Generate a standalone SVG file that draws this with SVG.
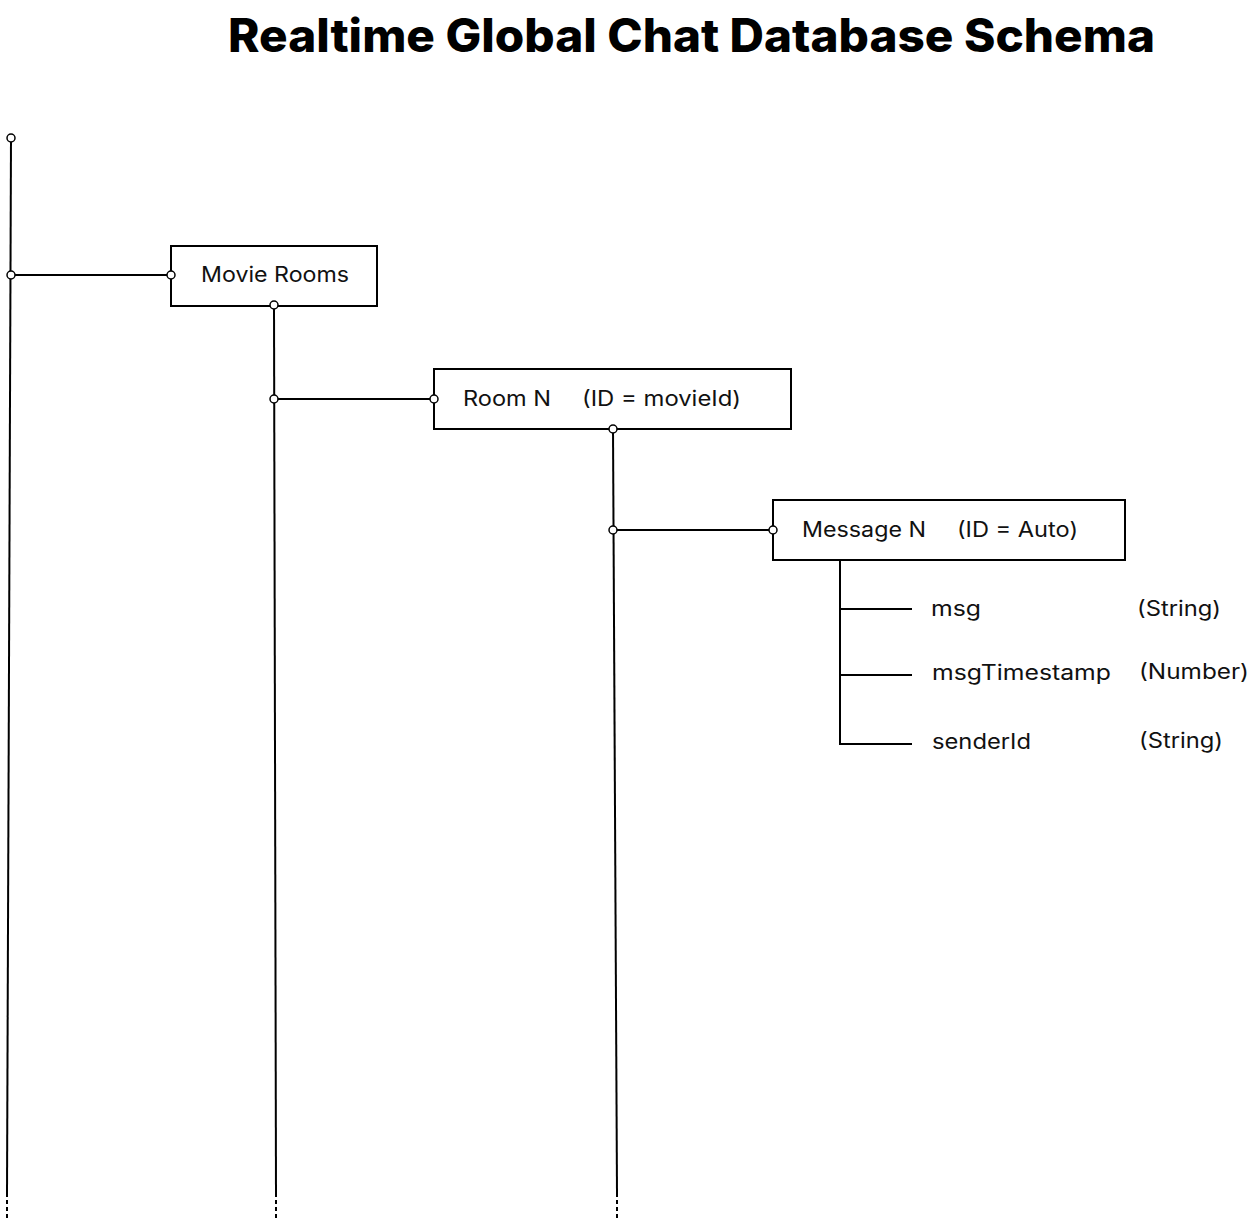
<svg xmlns="http://www.w3.org/2000/svg" width="1252" height="1219" viewBox="0 0 1252 1219">
<style>
.bg{fill:#fff}
.title{font-family:Inter,"Open Sans","Liberation Sans",sans-serif;font-weight:800;font-size:46px;fill:#000}
.lbl{font-family:Inter,"Open Sans","Liberation Sans",sans-serif;font-size:21px;fill:#111}
.box{fill:#fff;stroke:#000;stroke-width:2}
.ln{stroke:#000;stroke-width:2;fill:none}
.dash{stroke:#000;stroke-width:2;fill:none;stroke-dasharray:4 3}
.pt{fill:#fff;stroke:#000;stroke-width:1.5}
</style>
<rect class="bg" x="0" y="0" width="1252" height="1219"/>
<text class="title" x="228" y="52" textLength="927" lengthAdjust="spacingAndGlyphs">Realtime Global Chat Database Schema</text>
<g id="connectors">
<path class="ln" d="M11 138 L7 1193"/>
<path class="dash" d="M7 1193 L7 1219"/>
<path class="ln" d="M274 305 L276 1193"/>
<path class="dash" d="M276 1193 L276 1219"/>
<path class="ln" d="M613 429 L617 1193"/>
<path class="dash" d="M617 1193 L617 1219"/>
<path class="ln" d="M11 275 H171"/>
<path class="ln" d="M274 399 H434"/>
<path class="ln" d="M613 530 H773"/>
<path class="ln" d="M840 560 V744 H912 M840 609 H912 M840 675 H912"/>
</g>
<g id="movie-rooms">
<rect class="box" x="171" y="246" width="206" height="60"/>
<text class="lbl" x="201" y="282" textLength="148" lengthAdjust="spacingAndGlyphs">Movie Rooms</text>
</g>
<g id="room-n">
<rect class="box" x="434" y="369" width="357" height="60"/>
<text class="lbl" x="463" y="406" textLength="88" lengthAdjust="spacingAndGlyphs">Room N</text>
<text class="lbl" x="582" y="406" textLength="159" lengthAdjust="spacingAndGlyphs">(ID = movieId)</text>
</g>
<g id="message-n">
<rect class="box" x="773" y="500" width="352" height="60"/>
<text class="lbl" x="802" y="537" textLength="124" lengthAdjust="spacingAndGlyphs">Message N</text>
<text class="lbl" x="957" y="537" textLength="121" lengthAdjust="spacingAndGlyphs">(ID = Auto)</text>
</g>
<g id="fields">
<text class="lbl" x="931" y="616" textLength="50" lengthAdjust="spacingAndGlyphs">msg</text>
<text class="lbl" x="1137" y="616" textLength="84" lengthAdjust="spacingAndGlyphs">(String)</text>
<text class="lbl" x="932" y="680" textLength="179" lengthAdjust="spacingAndGlyphs">msgTimestamp</text>
<text class="lbl" x="1139" y="679" textLength="110" lengthAdjust="spacingAndGlyphs">(Number)</text>
<text class="lbl" x="932" y="749" textLength="99" lengthAdjust="spacingAndGlyphs">senderId</text>
<text class="lbl" x="1139" y="748" textLength="84" lengthAdjust="spacingAndGlyphs">(String)</text>
</g>
<g id="ports">
<circle class="pt" cx="11" cy="138" r="4"/>
<circle class="pt" cx="11" cy="275" r="4"/>
<circle class="pt" cx="171" cy="275" r="4"/>
<circle class="pt" cx="274" cy="305" r="4"/>
<circle class="pt" cx="274" cy="399" r="4"/>
<circle class="pt" cx="434" cy="399" r="4"/>
<circle class="pt" cx="613" cy="429" r="4"/>
<circle class="pt" cx="613" cy="530" r="4"/>
<circle class="pt" cx="773" cy="530" r="4"/>
</g>
</svg>
